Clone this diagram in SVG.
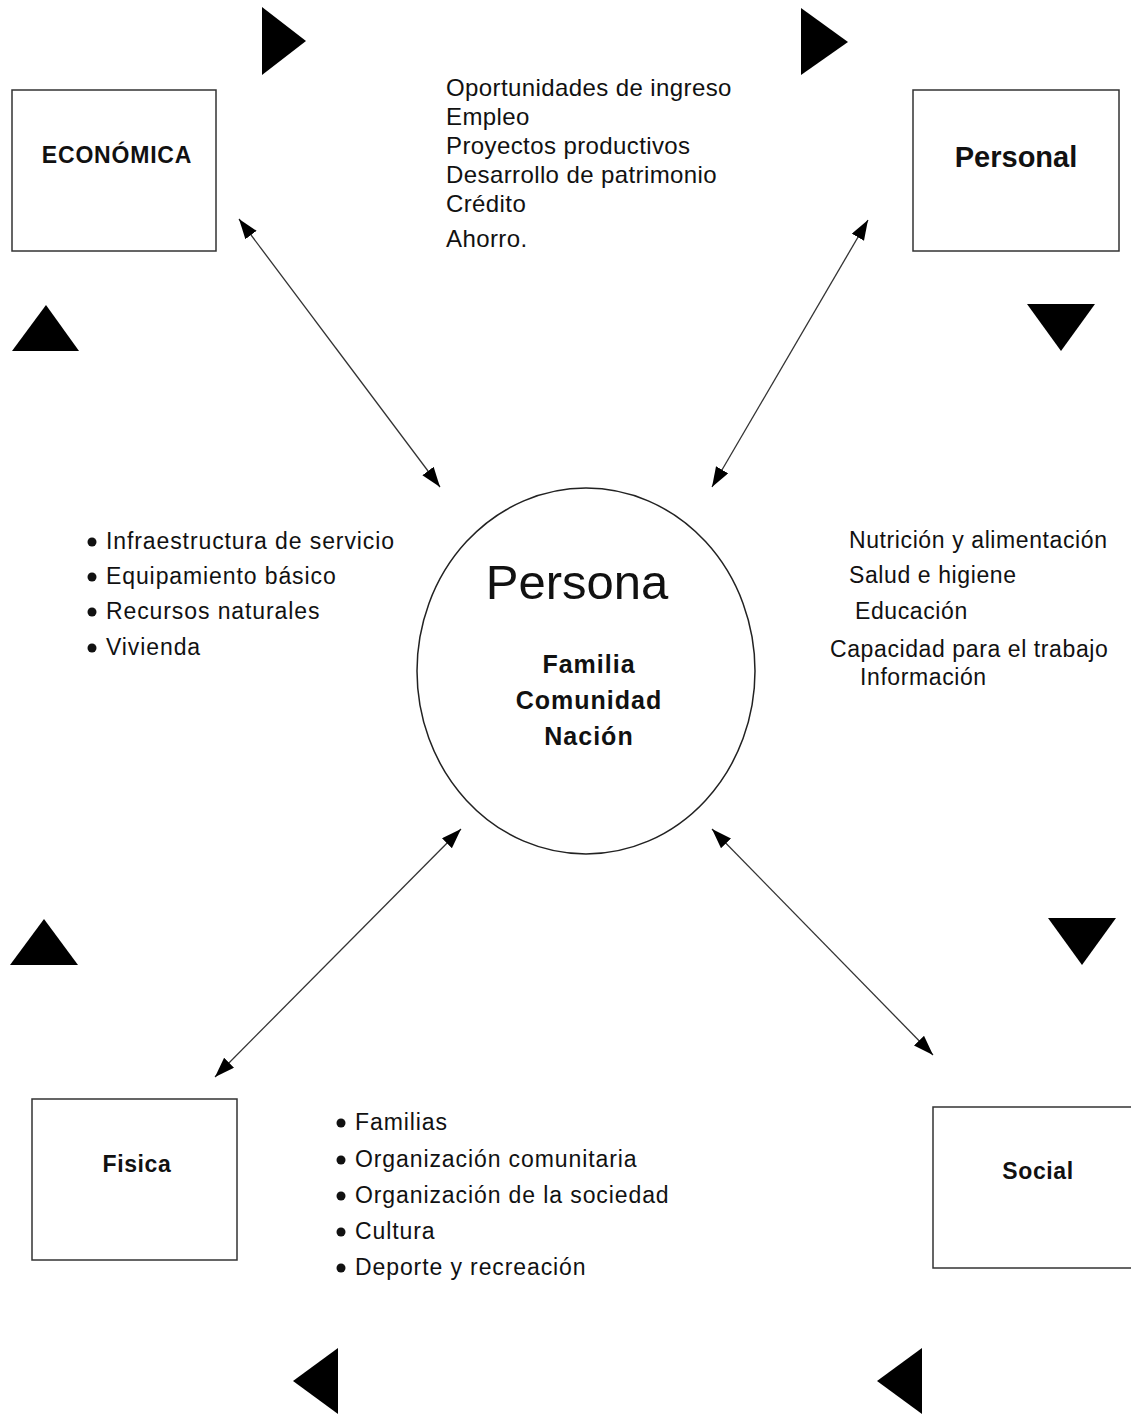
<svg xmlns="http://www.w3.org/2000/svg" width="1131" height="1414" viewBox="0 0 1131 1414">
<defs>
<style>
.box{fill:#fff;stroke:#333;stroke-width:1.5}
.lbl{font-family:"Liberation Sans",Arial,sans-serif;font-weight:bold;fill:#111;text-anchor:middle}
.txt{font-family:"Liberation Sans",Arial,sans-serif;fill:#111;font-size:23px}
.top{font-family:"Liberation Sans",Arial,sans-serif;fill:#111;font-size:24px;letter-spacing:0.4px}
.sp{letter-spacing:0.9px}
.tri{fill:#000}
.dot{fill:#111}
.conn{stroke:#333;stroke-width:1.3;fill:none;marker-start:url(#ah);marker-end:url(#ah)}
</style>
<marker id="ah" markerUnits="userSpaceOnUse" markerWidth="22" markerHeight="16" refX="20" refY="7" orient="auto-start-reverse" viewBox="0 0 22 16">
<path d="M0,0 L20,7 L0,14 z" fill="#000"/>
</marker>
</defs>
<rect width="1131" height="1414" fill="#fff"/>

<g id="decor">
<polygon class="tri" points="262,7 306,41 262,75"/>
<polygon class="tri" points="801,8 848,42 801,75"/>
<polygon class="tri" points="12,351 46,305 79,351"/>
<polygon class="tri" points="1027,304 1095,304 1061,351"/>
<polygon class="tri" points="10,965 44,919 78,965"/>
<polygon class="tri" points="1048,918 1116,918 1082,965"/>
<polygon class="tri" points="338,1348 293,1381 338,1414"/>
<polygon class="tri" points="922,1348 877,1381 922,1414"/>
</g>

<g id="connectors">
<line class="conn" x1="239" y1="219" x2="440" y2="487"/>
<line class="conn" x1="868" y1="220" x2="712" y2="487"/>
<line class="conn" x1="215" y1="1077" x2="461" y2="829"/>
<line class="conn" x1="933" y1="1055" x2="712" y2="829"/>
</g>

<g id="economica">
<rect class="box" x="12" y="90" width="204" height="161"/>
<text class="lbl" x="117" y="163" font-size="23" letter-spacing="0.8">ECONÓMICA</text>
</g>

<g id="personal">
<rect class="box" x="913" y="90" width="206" height="161"/>
<text class="lbl" x="1016" y="167" font-size="29">Personal</text>
</g>

<g id="fisica">
<rect class="box" x="32" y="1099" width="205" height="161"/>
<text class="lbl" x="137" y="1172" font-size="23" letter-spacing="0.6">Fisica</text>
</g>

<g id="social">
<rect class="box" x="933" y="1107" width="210" height="161"/>
<text class="lbl" x="1038" y="1179" font-size="23" letter-spacing="0.6">Social</text>
</g>

<g id="persona">
<ellipse cx="586" cy="671" rx="169" ry="183" fill="#fff" stroke="#222" stroke-width="1.5"/>
<text x="577" y="599" font-family="Liberation Sans, Arial, sans-serif" font-size="49" fill="#111" text-anchor="middle">Persona</text>
<text class="lbl" x="589" y="673" font-size="25" letter-spacing="1">Familia</text>
<text class="lbl" x="589" y="709" font-size="25" letter-spacing="1">Comunidad</text>
<text class="lbl" x="589" y="745" font-size="25" letter-spacing="1">Nación</text>
</g>

<g id="economica-items">
<text class="top" x="446" y="96">Oportunidades de ingreso</text>
<text class="top" x="446" y="125">Empleo</text>
<text class="top" x="446" y="154">Proyectos productivos</text>
<text class="top" x="446" y="183">Desarrollo de patrimonio</text>
<text class="top" x="446" y="212">Crédito</text>
<text class="top" x="446" y="247">Ahorro.</text>
</g>

<g id="fisica-items">
<circle class="dot" cx="92" cy="542" r="4.5"/>
<circle class="dot" cx="92" cy="577" r="4.5"/>
<circle class="dot" cx="92" cy="612" r="4.5"/>
<circle class="dot" cx="92" cy="648" r="4.5"/>
<text class="txt sp" x="106" y="549">Infraestructura de servicio</text>
<text class="txt sp" x="106" y="584">Equipamiento básico</text>
<text class="txt sp" x="106" y="619">Recursos naturales</text>
<text class="txt sp" x="106" y="655">Vivienda</text>
</g>

<g id="personal-items">
<text class="txt" x="849" y="548" letter-spacing="0.6">Nutrición y alimentación</text>
<text class="txt" x="849" y="583" letter-spacing="0.6">Salud e higiene</text>
<text class="txt" x="855" y="619" letter-spacing="0.6">Educación</text>
<text class="txt" x="830" y="657" letter-spacing="0.6">Capacidad para el trabajo</text>
<text class="txt" x="860" y="685" letter-spacing="0.6">Información</text>
</g>

<g id="social-items">
<circle class="dot" cx="341" cy="1123" r="4.5"/>
<circle class="dot" cx="341" cy="1160" r="4.5"/>
<circle class="dot" cx="341" cy="1196" r="4.5"/>
<circle class="dot" cx="341" cy="1232" r="4.5"/>
<circle class="dot" cx="341" cy="1268" r="4.5"/>
<text class="txt sp" x="355" y="1130">Familias</text>
<text class="txt sp" x="355" y="1167">Organización comunitaria</text>
<text class="txt sp" x="355" y="1203">Organización de la sociedad</text>
<text class="txt sp" x="355" y="1239">Cultura</text>
<text class="txt sp" x="355" y="1275">Deporte y recreación</text>
</g>
</svg>
